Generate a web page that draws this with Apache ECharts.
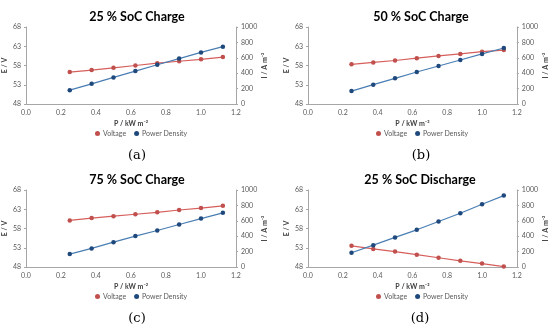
<!DOCTYPE html>
<html>
<head>
<meta charset="utf-8">
<script src="https://cdn.jsdelivr.net/npm/echarts@6/dist/echarts.min.js"></script>
<style>html,body{margin:0;padding:0;background:#fff}#c{width:550px;height:331px}</style>
</head>
<body>
<div id="c"></div>
<script>
const xValues = [0.25, 0.375, 0.5, 0.625, 0.75, 0.875, 1.0, 1.125];
const titles = ['25 % SoC Charge', '50 % SoC Charge', '75 % SoC Charge', '25 % SoC Discharge'];
const panelLabels = ['(a)', '(b)', '(c)', '(d)'];
const seriesNames = ['Voltage', 'Power Density'];
const voltageA = [56.3, 56.8, 57.4, 58.0, 58.6, 59.1, 59.6, 60.2];
const powerA = [180, 262, 345, 427, 510, 590, 670, 745];
const voltageB = [58.3, 58.8, 59.3, 59.9, 60.5, 61.0, 61.6, 62.0];
const powerB = [168, 251, 333, 416, 494, 571, 650, 727];
const voltageC = [60.1, 60.7, 61.2, 61.7, 62.2, 62.8, 63.3, 63.9];
const powerC = [168, 241, 323, 401, 474, 552, 629, 703];
const voltageD = [53.5, 52.7, 52.0, 51.2, 50.4, 49.6, 48.9, 48.1];
const powerD = [185, 284, 384, 483, 591, 698, 815, 927];
const leftTicks = [48, 53, 58, 63, 68];
const xTicks = [0, 0.2, 0.4, 0.6, 0.8, 1.0, 1.2];
const rightTicks = [0, 200, 400, 600, 800, 1000];

const voltages = [voltageA, voltageB, voltageC, voltageD];
const powers = [powerA, powerB, powerC, powerD];

// layout
const panels = [
  {left: 26, top: 27, width: 210, height: 77, cx: 132, ty: 5, ly: 144, gy: 130, lgx: 95},
  {left: 308, top: 27, width: 212, height: 77, cx: 416, ty: 5, ly: 144, gy: 130, lgx: 376},
  {left: 26, top: 190, width: 210, height: 77, cx: 132, ty: 168, ly: 307, gy: 293, lgx: 95},
  {left: 308, top: 190, width: 211, height: 77, cx: 415, ty: 168, ly: 307, gy: 293, lgx: 376}
];

const FONT = 'Lato';
const axisLineColor = '#a6a6a6';
const labelColor = '#595959';
const vLine = '#D65F5C', vMark = '#C0504D';
const pLine = '#4A7EB3', pMark = '#1F497D';

const grid = [], xAxis = [], yAxis = [], series = [], title = [], legend = [];
panels.forEach((p, i) => {
  grid.push({left: p.left, top: p.top, width: p.width, height: p.height, containLabel: false});
  xAxis.push({
    type: 'value', gridIndex: i, min: 0, max: 1.2,
    name: 'P / kW m⁻²', nameLocation: 'middle', nameGap: 16,
    nameTextStyle: {fontFamily: FONT, fontSize: 7, fontWeight: 'bold', color: '#404040'},
    axisLine: {show: true, lineStyle: {color: axisLineColor, width: 1}},
    axisTick: {show: false},
    axisLabel: {fontFamily: FONT, fontSize: 7, color: labelColor, margin: 5,
      customValues: xTicks, formatter: v => v.toFixed(1)},
    splitLine: {show: false}
  });
  yAxis.push({
    type: 'value', gridIndex: i, position: 'left', min: 48, max: 68,
    name: 'E / V', nameLocation: 'middle', nameGap: 18, nameRotate: 90,
    nameTextStyle: {fontFamily: FONT, fontSize: 7, fontWeight: 'bold', color: '#404040'},
    axisLine: {show: true, lineStyle: {color: axisLineColor, width: 1}},
    axisTick: {show: true, length: 2, customValues: leftTicks, lineStyle: {color: axisLineColor}},
    axisLabel: {fontFamily: FONT, fontSize: 7, color: labelColor, margin: 5, customValues: leftTicks},
    splitLine: {show: false}
  });
  yAxis.push({
    type: 'value', gridIndex: i, position: 'right', min: 0, max: 1000,
    name: 'I / A m⁻²', nameLocation: 'middle', nameGap: 23, nameRotate: 90,
    nameTextStyle: {fontFamily: FONT, fontSize: 7, fontWeight: 'bold', color: '#404040'},
    axisLine: {show: true, lineStyle: {color: axisLineColor, width: 1}},
    axisTick: {show: true, length: 2, customValues: rightTicks, lineStyle: {color: axisLineColor}},
    axisLabel: {fontFamily: FONT, fontSize: 7, color: labelColor, margin: 5,
      customValues: rightTicks, formatter: v => String(v)},
    splitLine: {show: false}
  });
  series.push({
    name: seriesNames[0], type: 'line', xAxisIndex: i, yAxisIndex: 2 * i,
    data: xValues.map((x, k) => [x, voltages[i][k]]),
    symbol: 'circle', symbolSize: 4.5,
    lineStyle: {color: vLine, width: 1.2}, itemStyle: {color: vMark}
  });
  series.push({
    name: seriesNames[1], type: 'line', xAxisIndex: i, yAxisIndex: 2 * i + 1,
    data: xValues.map((x, k) => [x, powers[i][k]]),
    symbol: 'circle', symbolSize: 4.5,
    lineStyle: {color: pLine, width: 1.2}, itemStyle: {color: pMark}
  });
  title.push({
    text: titles[i], left: p.cx, top: p.ty, textAlign: 'center',
    textStyle: {fontFamily: FONT, fontSize: 12.5, fontWeight: 'bold', color: '#000'}
  });
  title.push({
    text: panelLabels[i], left: p.cx, top: p.ly, textAlign: 'center',
    textStyle: {fontFamily: 'DejaVu Serif', fontSize: 13, fontWeight: 'normal', color: '#000'}
  });
  legend.push({
    data: seriesNames, left: p.lgx, top: p.gy, icon: 'circle',
    itemWidth: 5, itemHeight: 5, itemGap: 8, padding: 0,
    textStyle: {fontFamily: FONT, fontSize: 7, color: labelColor, padding: [0, 0, 0, -2]}
  });
});

const chart = echarts.init(document.getElementById('c'), null, {renderer: 'canvas'});
chart.setOption({animation: false, backgroundColor: '#fff', title, legend, grid, xAxis, yAxis, series});
</script>
</body>
</html>
